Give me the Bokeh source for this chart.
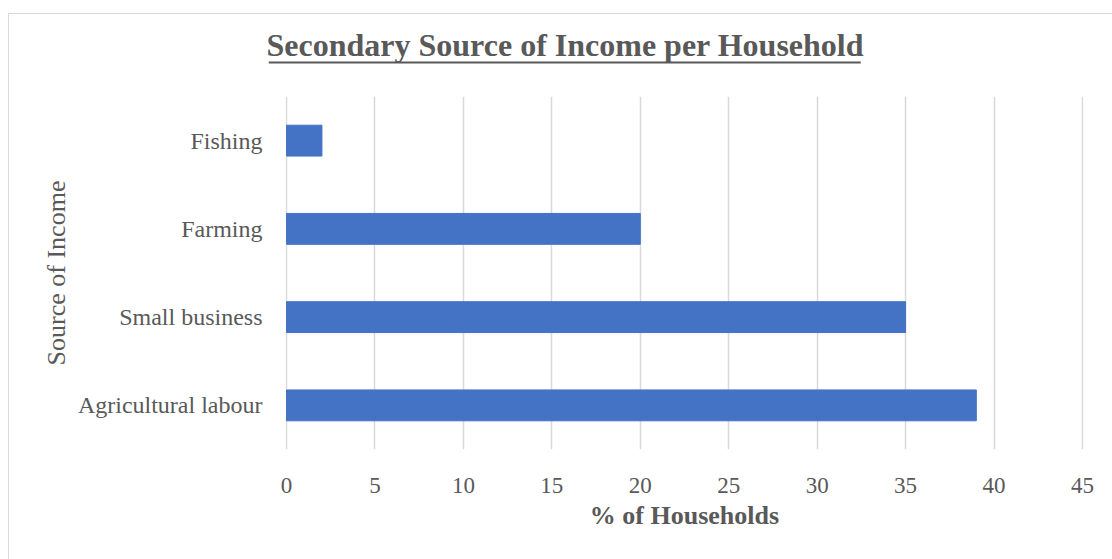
from bokeh.plotting import figure
from bokeh.models import FactorRange, Range1d, Title, FixedTicker
from bokeh.embed import file_html
from bokeh.resources import INLINE

categories = ["Agricultural labour", "Small business", "Farming", "Fishing"]
values = [39, 35, 20, 2]
x_ticks = [0, 5, 10, 15, 20, 25, 30, 35, 40, 45]

TXT = "#595959"
FONT = "Liberation Serif"

p = figure(width=1104, height=546, output_backend="svg", toolbar_location=None,
           y_range=FactorRange(*categories, range_padding=0),
           x_range=Range1d(-0.06, 45.06),
           min_border_left=276, min_border_right=30, min_border_top=82, min_border_bottom=111)
p.margin = (13, 0, 0, 8)
p.styles = {"border-left": "1px solid #d9d9d9", "border-top": "1px solid #d9d9d9"}

p.hbar(y=categories, right=values, left=0, height=0.35, color="#4472c4")

p.outline_line_color = None
p.background_fill_color = "white"
p.border_fill_color = "white"

p.ygrid.grid_line_color = None
p.xgrid.grid_line_color = "#d9d9d9"
p.xgrid.grid_line_width = 1.5
p.xaxis.ticker = FixedTicker(ticks=x_ticks)

for ax in (p.xaxis[0], p.yaxis[0]):
    ax.axis_line_color = None
    ax.major_tick_line_color = None
    ax.minor_tick_line_color = None
    ax.major_tick_out = 0
    ax.major_tick_in = 0
    ax.major_label_text_color = TXT
    ax.major_label_text_font = FONT
    ax.axis_label_text_color = TXT
    ax.axis_label_text_font = FONT

p.xaxis.major_label_text_font_size = "23px"
p.xaxis.major_label_standoff = 28
p.xaxis.axis_label = "% of Households"
p.xaxis.axis_label_text_font_size = "26px"
p.xaxis.axis_label_text_font_style = "bold"
p.xaxis.axis_label_standoff = 5

p.yaxis.major_label_text_font_size = "24px"
p.yaxis.major_label_standoff = 23
p.yaxis.axis_label = "Source of Income"
p.yaxis.axis_label_text_font_size = "26px"
p.yaxis.axis_label_text_font_style = "normal"
p.yaxis.axis_label_standoff = 4

# invisible spacer between frame and title
spacer = Title(text="\u00a0", text_font_size="2px", align="left", offset=-19, standoff=45)
p.add_layout(spacer, "above")

# title, underlined: only the bottom edge of its border box is stroked
p.title.text = "Secondary Source of Income per Household"
p.title.text_font = FONT
p.title.text_font_size = "32px"
p.title.text_font_style = "bold"
p.title.text_color = TXT
p.title.align = "left"
p.title.offset = -19
p.title.standoff = -30
p.title.border_line_color = TXT
p.title.border_line_width = 2
p.title.border_line_dash = "0 637 592 2000"

open("out.html", "w").write(file_html(p, INLINE))
